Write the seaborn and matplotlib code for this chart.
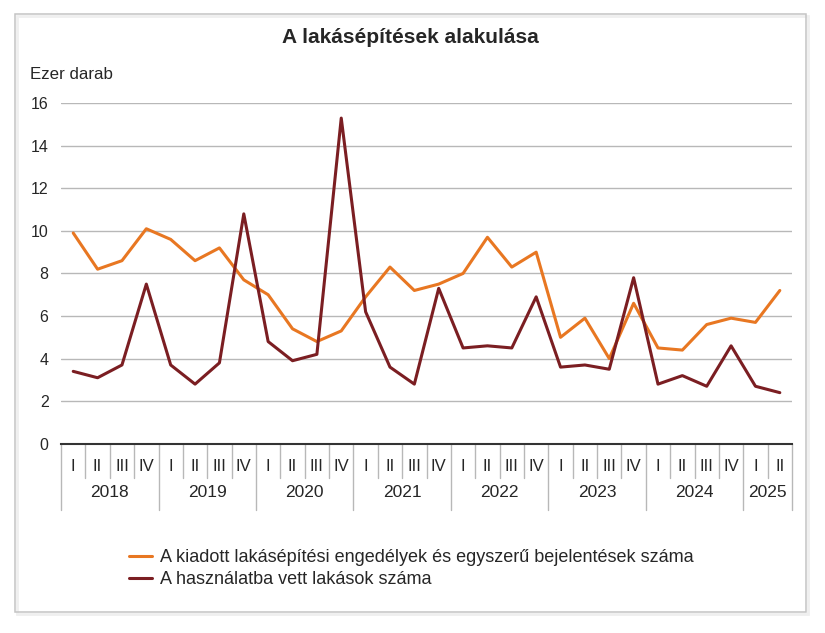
import matplotlib
matplotlib.use("Agg")
import matplotlib.pyplot as plt
import matplotlib.transforms as mtransforms
from matplotlib.patches import Rectangle
import pandas as pd
import seaborn as sns

# Quarterly data, thousand dwellings
years = ["2018", "2019", "2020", "2021", "2022", "2023", "2024", "2025"]
quarters_per_year = [4, 4, 4, 4, 4, 4, 4, 2]
quarter_names = ["I", "II", "III", "IV"]

permits = [9.9, 8.2, 8.6, 10.1, 9.6, 8.6, 9.2, 7.7, 7.0, 5.4, 4.8, 5.3,
           6.9, 8.3, 7.2, 7.5, 8.0, 9.7, 8.3, 9.0, 5.0, 5.9, 4.0, 6.6,
           4.5, 4.4, 5.6, 5.9, 5.7, 7.2]
completed = [3.4, 3.1, 3.7, 7.5, 3.7, 2.8, 3.8, 10.8, 4.8, 3.9, 4.2, 15.3,
             6.2, 3.6, 2.8, 7.3, 4.5, 4.6, 4.5, 6.9, 3.6, 3.7, 3.5, 7.8,
             2.8, 3.2, 2.7, 4.6, 2.7, 2.4]

label_permits = "A kiadott lakásépítési engedélyek és egyszerű bejelentések száma"
label_completed = "A használatba vett lakások száma"

quarter_labels = []
for n in quarters_per_year:
    quarter_labels += quarter_names[:n]

df = pd.DataFrame({
    "pos": list(range(len(permits))) * 2,
    "value": permits + completed,
    "series": [label_permits] * len(permits) + [label_completed] * len(completed),
})

sns.set_theme(style="white")
plt.rcParams["font.family"] = ["Liberation Sans", "DejaVu Sans"]
text_color = "#262626"

fig = plt.figure(figsize=(8.25, 6.33), dpi=100)
ax = fig.add_axes([0.074, 0.299, 0.886, 0.538])

# outer frame with a faint shadow
fig.patches.append(Rectangle((0.020, 0.030), 0.959, 0.945, transform=fig.transFigure,
                             facecolor="none", edgecolor="#efefef", linewidth=2,
                             zorder=-2))
fig.patches.append(Rectangle((0.018, 0.033), 0.959, 0.945, transform=fig.transFigure,
                             facecolor="none", edgecolor="#c4c4c4", linewidth=1.1,
                             zorder=-1))

sns.lineplot(data=df, x="pos", y="value", hue="series",
             palette=["#e87722", "#7b1e22"], linewidth=2.2, ax=ax, legend=False)

ax.set_xlim(-0.5, len(permits) - 0.5)
ax.set_ylim(0, 16)
ax.set_yticks(range(0, 17, 2))
ax.set_yticklabels([str(v) for v in range(0, 17, 2)], fontsize=11.5, color=text_color)
ax.tick_params(axis="y", length=0, pad=9)
ax.yaxis.grid(True, color="#b8b8b8", linewidth=1)
ax.set_axisbelow(True)
ax.set_xticks([])
ax.set_xlabel("")
ax.set_ylabel("")
ax.patch.set_alpha(0)
for side in ["top", "right", "left"]:
    ax.spines[side].set_visible(False)
ax.spines["bottom"].set_color("#333333")
ax.spines["bottom"].set_linewidth(1.5)

# two-level category axis
trans = mtransforms.blended_transform_factory(ax.transData, ax.transAxes)
for i, q in enumerate(quarter_labels):
    ax.text(i, -0.068, q, transform=trans, ha="center", va="center",
            fontsize=12, color=text_color)
year_bounds = [-0.5]
for n in quarters_per_year:
    year_bounds.append(year_bounds[-1] + n)
for i in range(len(permits) + 1):
    b = i - 0.5
    bottom = -0.195 if b in year_bounds else -0.1
    ax.plot([b, b], [0, bottom], transform=trans, color="#b8b8b8",
            linewidth=1, clip_on=False)
for k, y in enumerate(years):
    mid = (year_bounds[k] + year_bounds[k + 1]) / 2
    ax.text(mid, -0.143, y, transform=trans, ha="center", va="center",
            fontsize=12.5, color=text_color)

fig.text(0.497, 0.94, "A lakásépítések alakulása", ha="center", va="center",
         fontsize=15, fontweight="bold", color=text_color)
fig.text(0.036, 0.882, "Ezer darab", ha="left", va="center", fontsize=12.2,
         color=text_color)

# legend
handles = ax.get_lines()[:2]
fig.legend(handles, [label_permits, label_completed], loc="upper left",
           bbox_to_anchor=(0.156, 0.132), frameon=False, fontsize=13,
           handlelength=1.3, handletextpad=0.45, labelspacing=0.25,
           borderaxespad=0, borderpad=0, labelcolor=text_color)

fig.savefig("out.png", dpi=100)
